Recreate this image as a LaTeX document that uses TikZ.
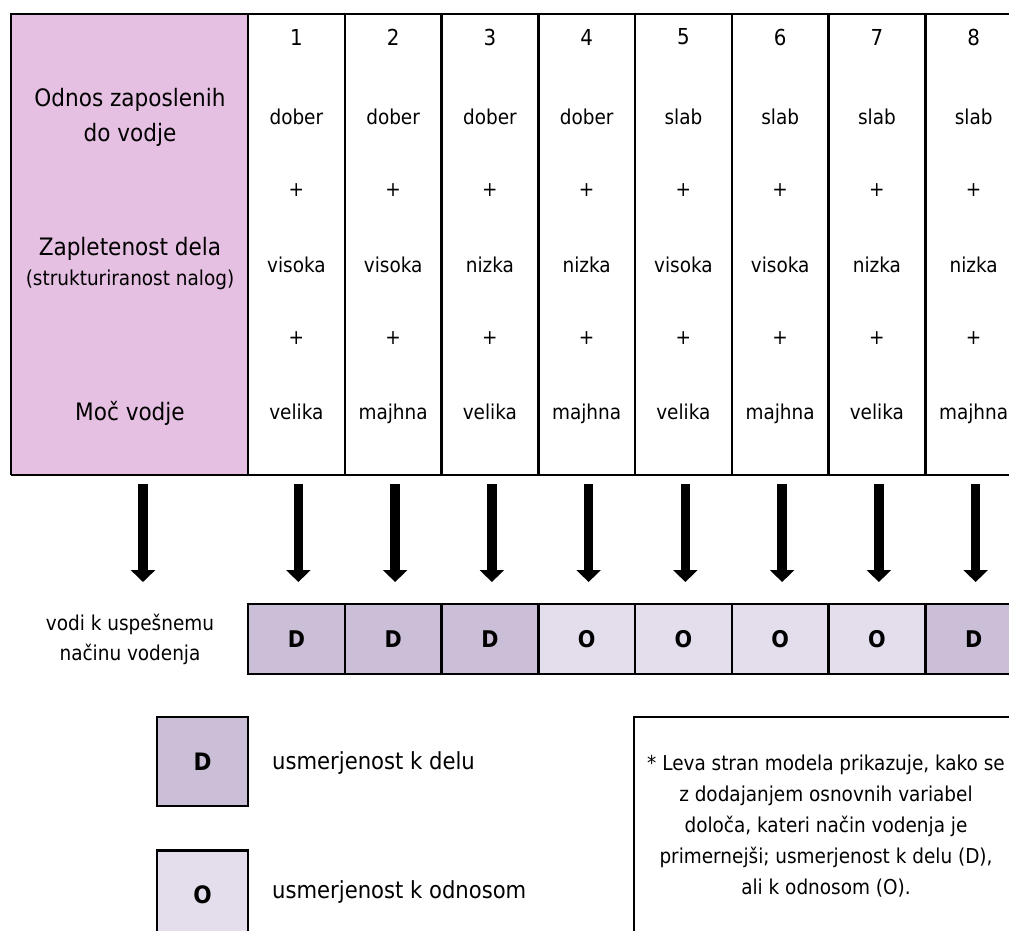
\documentclass[tikz,border=0pt]{standalone}
\usepackage{fontspec}
\setmainfont{DejaVu Sans Condensed}
\usetikzlibrary{arrows.meta}
\definecolor{pinkc}{HTML}{E6C0E2}
\definecolor{dcol}{HTML}{CBBFD8}
\definecolor{ocol}{HTML}{E4DEEC}
\tikzset{
  border/.style={line width=2.5pt},
  lbl/.style={font=\fontsize{24}{29}\selectfont, align=center, inner sep=0pt},
  val/.style={font=\fontsize{20.5}{24}\selectfont, inner sep=0pt},
  cellbox/.style={draw, line width=2.5pt, minimum width=96.75pt, minimum height=70pt, inner sep=0pt, font=\bfseries\fontsize{23}{24}\selectfont},
  legbox/.style={draw, line width=2.5pt, minimum width=91pt, minimum height=89pt, inner sep=0pt, font=\bfseries\fontsize{24}{26}\selectfont},
  bigarrow/.style={line width=9.5pt, -{Triangle[width=24pt,length=12pt]}},
}
\begin{document}
\begin{tikzpicture}[x=1pt,y=-1pt]
\useasboundingbox (0,0) rectangle (1009,930);
% pink column
\fill[pinkc] (11,14) rectangle (248,475);
\draw[border] (11,475) -- (11,14) -- (1030,14);
\draw[border] (11,475) -- (1030,475);
\foreach \k in {0,...,8} {
  \draw[border] ({248+96.75*\k},14) -- ({248+96.75*\k},475);
}
% left labels
\node[lbl, font=\fontsize{24}{35}\selectfont] (l1) at (130,117) {Odnos zaposlenih\\do vodje};
\node[lbl] (l2) at (130,249) {Zapletenost dela};
\node[lbl, font=\fontsize{20.5}{24}\selectfont] (l2b) at (130,280) {(strukturiranost nalog)};
\node[lbl] (l3) at (130,413) {Moč vodje};
% values
\foreach \i/\a/\b/\c in {1/dober/visoka/velika, 2/dober/visoka/majhna, 3/dober/nizka/velika, 4/dober/nizka/majhna,
                        5/slab/visoka/velika, 6/slab/visoka/majhna, 7/slab/nizka/velika, 8/slab/nizka/majhna} {
  \pgfmathsetmacro{\cx}{248+96.75*(\i-0.5)}
  \node[lbl, font=\fontsize{22}{24}\selectfont] (num\i) at (\cx,37) {\i};
  \node[val] (ra\i) at (\cx,117) {\a};
  \node[val] (pa\i) at (\cx,190) {+};
  \node[val] (rb\i) at (\cx,265) {\b};
  \node[val] (pb\i) at (\cx,338) {+};
  \node[val, anchor=base] (rc\i) at (\cx,419) {\c};
}
% bottom row
\foreach \i/\t/\f in {1/D/dcol, 2/D/dcol, 3/D/dcol, 4/O/ocol, 5/O/ocol, 6/O/ocol, 7/O/ocol, 8/D/dcol} {
  \pgfmathsetmacro{\cx}{248+96.75*(\i-0.5)}
  \node[cellbox, fill=\f] (res\i) at (\cx,639) {\t};
  \coordinate (as\i) at ({\cx+2},484);
  \coordinate (ae\i) at ({\cx+2},582);
  \draw[bigarrow] (as\i) -- (ae\i);
}
\node[lbl, font=\fontsize{20.5}{30}\selectfont] (vodi) at (130,639) {vodi k uspešnemu\\načinu vodenja};
\coordinate (as0) at (143,484);
\coordinate (ae0) at (143,582);
\draw[bigarrow] (as0) -- (ae0);
% legend
\node[legbox, fill=dcol] (legD) at (202.5,761.5) {D};
\node[val, anchor=west, font=\fontsize{23.5}{26}\selectfont] (legDt) at (272,763) {usmerjenost k delu};
\node[legbox, fill=ocol] (legO) at (202.5,895) {O};
\node[val, anchor=west, font=\fontsize{23.5}{26}\selectfont] (legOt) at (272,892) {usmerjenost k odnosom};
% note
\draw[border] (634,960) -- (634,717) -- (1030,717);
\node[align=center, inner sep=0pt, font=\fontsize{20.5}{31}\selectfont] (note) at (826,826)
  {* Leva stran modela prikazuje, kako se\\z dodajanjem osnovnih variabel\\določa, kateri način vodenja je\\primernejši; usmerjenost k delu (D),\\ali k odnosom (O).};
\end{tikzpicture}
\end{document}
